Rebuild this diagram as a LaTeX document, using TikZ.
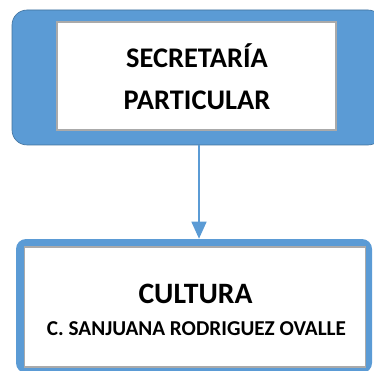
\documentclass[tikz,border=0pt]{standalone}
\usepackage{fontspec}
\usetikzlibrary{arrows.meta}
\setmainfont{Carlito}
\definecolor{boxblue}{RGB}{91,155,213}
\definecolor{edgeblue}{RGB}{65,113,156}
\definecolor{innergray}{RGB}{170,170,170}
\begin{document}
\begin{tikzpicture}[x=1pt,y=1pt,
  outerbox/.style={draw=edgeblue,line width=0.6pt,fill=boxblue,inner sep=0pt},
  innerbox/.style={draw=innergray,line width=1.5pt,fill=white,inner sep=0pt},
  label/.style={inner sep=0pt,anchor=base,font=\bfseries},
  conn/.style={draw=boxblue,line width=1.5pt,-{Triangle[width=15pt,length=17pt]}}]
\useasboundingbox (0,0) rectangle (374,-371);
\begin{scope}
\clip (0,0) rectangle (374,-371);
% top box
\node[outerbox,rounded corners=15pt,minimum width=371pt,minimum height=135pt] (topbox) at (197.5,-77.5) {};
\node[innerbox,minimum width=279pt,minimum height=108pt] (topin) at (196.5,-76) {};
\node[label,font=\bfseries\fontsize{28.4}{28}\selectfont] (t1) at (197,-68) {SECRETARÍA};
\node[label,font=\bfseries\fontsize{28.4}{28}\selectfont] (t2) at (197,-110) {PARTICULAR};
% bottom box
\node[outerbox,draw=none,rounded corners=10pt,minimum width=356pt,minimum height=134pt] (botbox) at (194,-306) {};
\node[innerbox,minimum width=341pt,minimum height=120pt] (botin) at (195,-307) {};
\node[label,font=\bfseries\fontsize{29.6}{29}\selectfont] (b1) at (195.5,-303) {CULTURA};
\node[label,font=\bfseries\fontsize{21.2}{21}\selectfont] (b2) at (196.5,-335) {C. SANJUANA RODRIGUEZ OVALLE};
% connector
\coordinate (ax) at (199,0);
\draw[conn] (topbox.south -| ax) -- (botbox.north -| ax);
\end{scope}
\end{tikzpicture}
\end{document}
